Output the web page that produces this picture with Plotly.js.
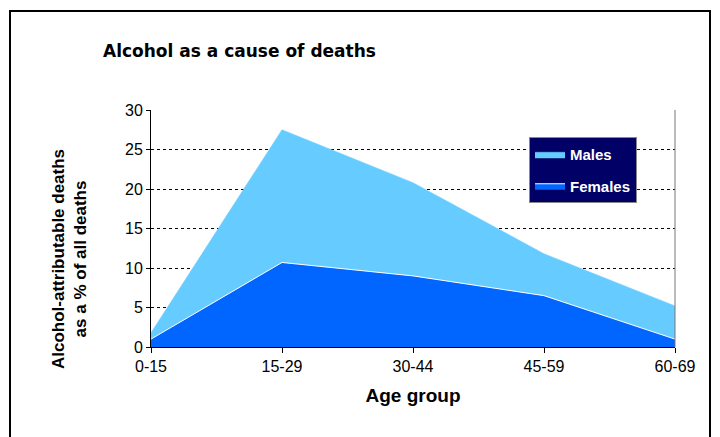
<!DOCTYPE html>
<html>
<head>
<meta charset="utf-8">
<script src="https://cdn.plot.ly/plotly-3.0.1.min.js"></script>
<style>html,body{margin:0;padding:0;background:#fff;}</style>
</head>
<body>
<div id="chart" style="width:720px;height:437px;"></div>
<script>
const ageGroups = ["0-15", "15-29", "30-44", "45-59", "60-69"];
const males = [1.8, 27.5, 20.8, 11.8, 5.2];
const females = [1.0, 10.7, 9.0, 6.5, 1.0];
const yTicks = [0, 5, 10, 15, 20, 25, 30];

const L = 151, R = 45, T = 110, B = 90, W = 720, H = 437;
const pw = W - L - R, ph = H - T - B;
const px = x => (x - L) / pw;
const py = y => (H - B - y) / ph;
const AR = "Arial, Liberation Sans, sans-serif";

const traces = [
  {
    x: ageGroups, y: males, name: "Males", type: "scatter", mode: "lines",
    fill: "tozeroy", fillcolor: "#66CCFF", line: {color: "#66CCFF", width: 0.5},
    legendgroup: "m", hoverinfo: "skip"
  },
  {
    x: ageGroups, y: females, name: "Females", type: "scatter", mode: "lines",
    fill: "tozeroy", fillcolor: "#0066FF", line: {color: "#FFFFFF", width: 1},
    legendgroup: "f", hoverinfo: "skip"
  }
];

const layout = {
  width: W, height: H,
  margin: {l: L, r: R, t: T, b: B, pad: 0},
  paper_bgcolor: "#fff", plot_bgcolor: "#fff",
  title: {
    text: "<b>Alcohol as a cause of deaths</b>",
    font: {family: "DejaVu Sans, Verdana, sans-serif", size: 17, color: "#000"},
    x: 103 / W, xref: "container", xanchor: "left",
    y: 1 - 51 / H, yref: "container", yanchor: "middle"
  },
  xaxis: {
    type: "category", range: [0, 4],
    showgrid: false, zeroline: false,
    showline: true, linecolor: "#000", linewidth: 1,
    ticks: "outside", ticklen: 5, tickcolor: "#000",
    tickfont: {family: AR, size: 16, color: "#000"},
    title: {text: "<b>Age group</b>", font: {family: AR, size: 19, color: "#000"}, standoff: 14},
    fixedrange: true
  },
  yaxis: {
    range: [0, 30], tickvals: yTicks,
    showgrid: true, gridcolor: "#000", griddash: "dot", gridwidth: 1,
    zeroline: false,
    showline: true, linecolor: "#000", linewidth: 1,
    ticks: "outside", ticklen: 4, tickcolor: "#000",
    tickfont: {family: AR, size: 16, color: "#000"},
    fixedrange: true
  },
  annotations: [
    {
      text: "<b>Alcohol-attributable deaths<br>as a % of all deaths</b>",
      xref: "paper", yref: "paper", x: px(69), y: py(259),
      xanchor: "center", yanchor: "middle", textangle: -90, showarrow: false,
      font: {family: AR, size: 17, color: "#000"}
    }
  ],
  showlegend: true,
  legend: {
    x: px(529), y: py(137), xanchor: "left", yanchor: "top",
    bgcolor: "#000066", bordercolor: "#888", borderwidth: 1,
    font: {family: AR, size: 15, color: "#fff", weight: "bold"},
    traceorder: "grouped", tracegroupgap: 9, itemwidth: 30
  },
  shapes: [
    {type: "line", xref: "paper", yref: "paper", x0: 1, x1: 1, y0: 0, y1: 1, line: {color: "#777", width: 1}},
    {type: "rect", xref: "paper", yref: "paper", x0: px(10), x1: px(710), y0: py(445), y1: py(11), line: {color: "#000", width: 2}}
  ]
};

Plotly.newPlot("chart", traces, layout, {displayModeBar: false, staticPlot: true});
</script>
</body>
</html>
